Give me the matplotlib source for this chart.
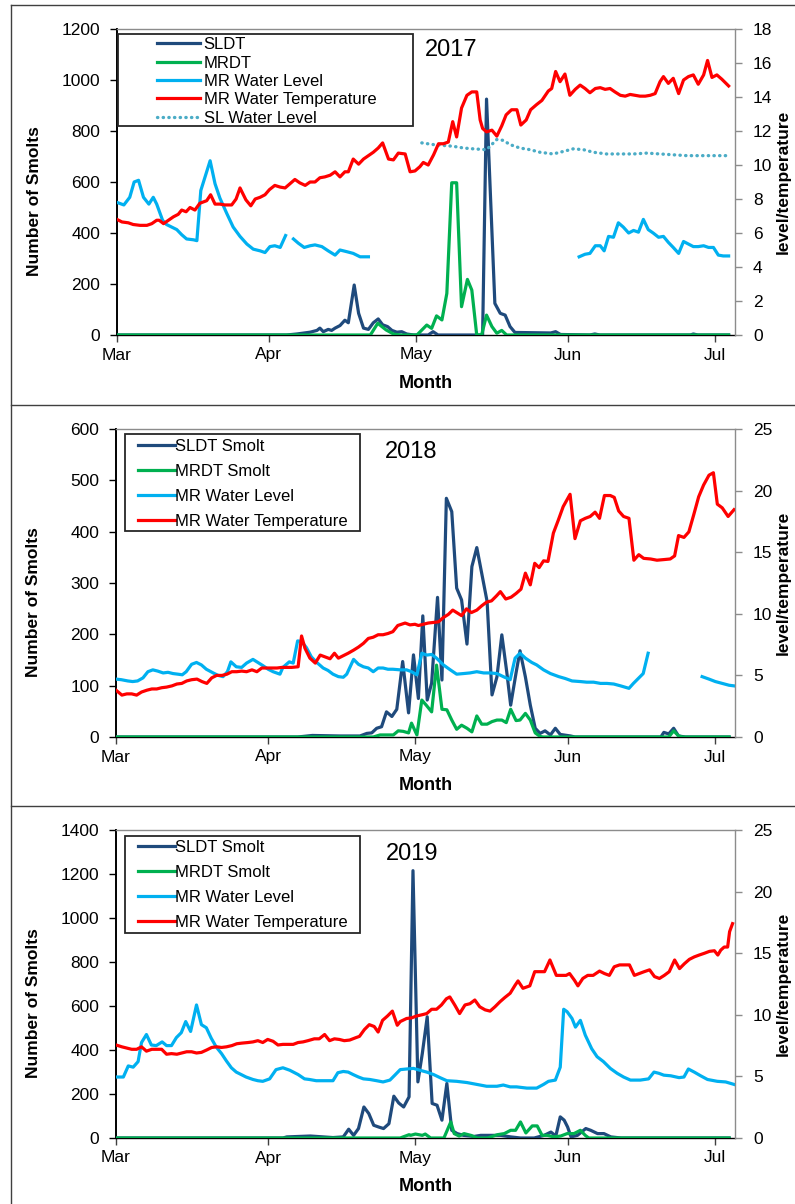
"""Smolt counts vs. river level / temperature, 2017-2019 (three stacked panels)."""

import matplotlib
matplotlib.use("Agg")
import matplotlib.pyplot as plt
import numpy as np
from matplotlib.lines import Line2D
from matplotlib.patches import Rectangle

plt.rcParams.update({
    "font.family": ["Liberation Sans", "DejaVu Sans"],
    "axes.linewidth": 1.0,
})

nan = np.nan

# x axis: days after 1 March
MONTH_DAYS = [0, 31, 61, 92, 122]
MONTH_LABELS = ["Mar", "Apr", "May", "Jun", "Jul"]

# ---------------------------------------------------------------- 2017
SLDT_2017 = [(0, 0), (34.6, 0), (36.7, 4), (39.4, 11), (40.8, 18), (41.4, 27), (42.1, 13),
             (43.1, 22), (43.8, 18), (44.5, 27), (45.5, 37), (46.5, 58), (47.2, 48),
             (48.4, 196), (49.3, 85), (50.3, 27), (51.3, 22), (52.3, 48), (53.3, 63),
             (54.2, 40), (55.2, 33), (56.1, 18), (57.1, 11), (58.1, 13), (59.1, 4),
             (60.5, 0), (63.5, 0), (64.5, 13), (65.5, 0), (74.6, 0), (75.4, 925),
             (77.1, 124), (78.2, 85), (79.2, 78), (80.2, 33), (81.2, 10), (88.5, 8),
             (89.5, 13), (90.5, 2), (96.5, 0), (97.5, 4), (98.5, 0), (117.0, 0),
             (117.6, 4), (118.5, 0), (124.8, 0)]
MRDT_2017 = [(0, 0), (51.7, 0), (53.2, 46), (54.9, 20), (56.5, 3), (58, 0), (61.2, 0),
             (63.2, 39), (64.2, 26), (65.2, 75), (66.3, 59), (67.3, 163), (68.3, 597),
             (69.3, 597), (70.3, 111), (71.5, 218), (72.4, 176), (73.4, 0), (74.4, 0),
             (75.4, 78), (76.5, 33), (77.5, 7), (78.5, 18), (79.5, 0), (124.8, 0)]
MRWL_2017 = [(0, 7.8), (1.4, 7.65), (2.6, 8.1), (3.5, 9.0), (4.4, 9.1), (5.4, 8.1), (6.5, 7.7),
             (7.4, 8.1), (8.1, 7.7), (9.3, 6.75), (10.1, 6.5), (12.2, 6.2), (13.2, 5.9),
             (14.2, 5.65), (15.6, 5.6), (16.3, 5.55), (17.1, 8.5), (19.0, 10.25), (20.0, 8.9),
             (21.0, 8.05), (22.4, 7.15), (23.7, 6.35), (25.1, 5.8), (26.5, 5.35), (27.8, 5.05),
             (29.2, 4.95), (30.2, 4.85), (31.2, 5.2), (32.2, 5.25), (33.3, 5.15), (34.4, 5.85),
             (35.2, nan), (36.0, 5.65), (37.0, 5.4), (38.2, 5.15), (39.4, 5.25), (40.4, 5.3),
             (41.8, 5.2), (43.1, 4.95), (44.5, 4.7), (45.5, 5.0), (46.9, 4.9), (48.2, 4.8),
             (49.6, 4.6), (51.3, 4.6), (52, nan), (94.3, 4.6), (95.5, 4.75), (96.5, 4.8),
             (97.6, 5.25), (98.6, 5.25), (99.4, 4.95), (100.3, 5.8), (101.3, 5.75),
             (102.3, 6.6), (103.3, 6.35), (104.4, 6.0), (105.4, 6.15), (106.4, 6.05),
             (107.4, 6.8), (108.4, 6.2), (109.4, 6.0), (110.5, 5.75), (111.5, 5.8),
             (112.5, 5.45), (113.5, 5.15), (114.6, 4.8), (115.6, 5.5), (116.6, 5.35),
             (117.6, 5.2), (118.6, 5.2), (119.7, 5.25), (120.7, 5.15), (121.7, 5.15),
             (122.7, 4.7), (123.7, 4.65), (124.8, 4.65)]
MRWT_2017 = [(0, 6.8), (1.0, 6.65), (2.3, 6.6), (3.3, 6.5), (4.7, 6.45), (6.1, 6.45), (7.1, 6.55),
             (8.1, 6.75), (8.6, 6.75), (9.5, 6.55), (10.5, 6.75), (11.5, 6.95), (12.5, 7.1),
             (13.2, 7.35), (14.1, 7.25), (14.9, 7.5), (15.9, 7.35), (16.9, 7.75), (18.3, 7.9),
             (19.1, 8.25), (20.0, 7.7), (21.0, 7.7), (22.0, 7.65), (23.4, 7.65), (24.3, 8.0),
             (25.1, 8.65), (26.3, 7.95), (27.3, 7.6), (28.2, 8.0), (29.2, 8.1), (30.2, 8.25),
             (31.1, 8.55), (32.2, 8.8), (33.3, 8.7), (34.3, 8.65), (35.3, 8.9), (36.3, 9.15),
             (37.3, 8.95), (38.4, 8.8), (39.4, 9.0), (40.4, 9.0), (41.4, 9.25), (42.4, 9.3),
             (43.5, 9.4), (44.5, 9.6), (45.5, 9.3), (46.5, 9.6), (47.2, 9.6), (48.2, 10.35),
             (49.3, 10.05), (50.3, 10.35), (51.3, 10.55), (52.3, 10.75), (53.3, 11.0),
             (54.2, 11.3), (55.4, 10.35), (56.4, 10.3), (57.4, 10.7), (58.8, 10.65),
             (59.8, 9.6), (60.8, 9.65), (61.8, 9.9), (62.5, 10.15), (63.5, 10.0), (64.6, 10.6),
             (65.6, 11.25), (66.6, 11.25), (67.6, 11.35), (68.5, 12.55), (69.3, 11.65),
             (70.3, 13.35), (71.4, 14.1), (72.4, 14.3), (73.4, 14.3), (74.1, 12.65),
             (74.6, 12.15), (75.4, 11.95), (76.5, 12.05), (77.5, 11.7), (78.5, 12.3),
             (79.4, 12.95), (80.5, 13.25), (81.6, 13.25), (82.4, 12.35), (83.5, 12.65),
             (84.4, 13.25), (85.6, 13.55), (86.7, 13.8), (88.0, 14.35), (88.7, 14.5),
             (89.5, 15.5), (90.4, 14.9), (91.4, 15.35), (92.4, 14.1), (93.5, 14.45),
             (94.5, 14.7), (95.5, 14.5), (96.5, 14.25), (97.6, 14.5), (98.6, 14.55),
             (99.6, 14.45), (100.6, 14.5), (101.6, 14.3), (102.7, 14.1), (103.7, 14.05),
             (104.7, 14.15), (105.7, 14.1), (106.7, 14.05), (107.8, 14.05), (108.8, 14.1),
             (109.8, 14.2), (110.8, 14.9), (111.5, 15.2), (112.5, 14.8), (113.5, 15.1),
             (114.6, 14.2), (115.6, 15.0), (116.6, 15.2), (117.6, 15.3), (118.6, 14.75),
             (119.7, 15.3), (120.5, 16.15), (121.4, 15.15), (122.4, 15.3), (123.4, 15.05),
             (124.8, 14.65)]
SLWL_2017 = [(62.2, 11.3), (64.6, 11.2), (66.6, 11.15), (68.6, 11.1), (70.7, 11.0),
             (72.7, 10.95), (75.4, 10.9), (77.5, 11.5), (78.8, 11.45), (80.2, 11.2),
             (82.2, 11.0), (84.3, 10.9), (86.3, 10.75), (89.0, 10.65), (91.1, 10.8),
             (93.1, 10.95), (95.2, 10.9), (97.2, 10.75), (99.9, 10.65), (102.7, 10.65),
             (105.4, 10.65), (108.1, 10.7), (110.8, 10.65), (113.5, 10.6), (116.3, 10.55),
             (119.0, 10.55), (121.7, 10.55), (124.8, 10.55)]

# ---------------------------------------------------------------- 2018
SLDT_2018 = [(0, 0), (37, 0), (40, 3), (45.6, 2), (49.7, 2), (51.1, 7), (52.1, 8), (53.1, 17),
             (54.1, 20), (55.1, 49), (56.2, 40), (57.2, 54), (58.4, 147), (59.6, 47),
             (60.6, 160), (61.6, 75), (62.5, 236), (63.4, 72), (64.3, 105), (65.5, 272),
             (66.4, 111), (67.3, 465), (68.4, 439), (69.4, 290), (70.4, 267), (71.5, 181),
             (72.5, 332), (73.5, 369), (74.5, 319), (75.6, 264), (76.6, 82), (77.6, 117),
             (78.6, 199), (79.6, 127), (80.4, 62), (81.5, 125), (82.3, 168), (83.4, 117),
             (84.4, 62), (85.4, 17), (86.4, 7), (87.4, 12), (88.5, 4), (89.5, 17), (90.5, 5),
             (92.6, 2), (93.5, 0), (111.0, 0), (111.6, 9), (112.6, 6), (113.6, 17),
             (114.6, 2), (116, 0), (124.9, 0)]
MRDT_2018 = [(0, 0), (52.4, 0), (53.8, 4), (56.5, 4), (57.5, 12), (58.5, 11), (59.6, 8),
             (60.2, 27), (61.3, 4), (62.3, 72), (63.2, 62), (64.3, 49), (65.3, 140),
             (66.4, 54), (67.4, 53), (68.4, 33), (69.4, 15), (70.4, 23), (71.5, 17),
             (72.5, 10), (73.5, 41), (74.5, 25), (75.6, 25), (76.6, 30), (77.6, 33),
             (78.6, 33), (79.5, 28), (80.4, 54), (81.5, 32), (82.3, 33), (83.4, 46),
             (84.4, 33), (85.4, 8), (86.4, 1), (87, 0), (112.6, 0), (113.6, 12), (114.6, 2),
             (115.5, 0), (124.9, 0)]
MRWL_2018 = [(0, 4.7), (1.1, 4.65), (2.4, 4.55), (3.4, 4.5), (4.4, 4.55), (5.5, 4.8), (6.5, 5.3),
             (7.5, 5.45), (8.5, 5.35), (9.6, 5.2), (10.6, 5.25), (11.6, 5.15), (12.6, 5.1),
             (13.5, 5.05), (14.3, 5.3), (15.4, 5.9), (16.4, 6.05), (17.4, 5.85), (18.4, 5.5),
             (19.8, 5.2), (20.8, 5.0), (21.8, 4.9), (22.7, 5.3), (23.4, 6.1), (24.5, 5.7),
             (25.6, 5.65), (26.6, 6.0), (27.9, 6.3), (28.9, 6.05), (29.9, 5.8), (31.0, 5.5),
             (32.0, 5.3), (33.4, 5.1), (34.0, 5.65), (35.3, 6.1), (36.1, 6.0), (37.0, 7.8),
             (37.8, 7.75), (38.8, 7.25), (39.8, 6.5), (40.9, 6.05), (42.2, 5.6), (43.2, 5.4),
             (44.2, 5.1), (45.3, 4.9), (46.3, 4.85), (47.0, 5.1), (47.7, 5.7), (48.4, 6.3),
             (49.4, 5.9), (50.4, 5.7), (51.4, 5.6), (52.4, 5.3), (53.4, 5.6), (54.4, 5.6),
             (55.4, 5.5), (56.4, 5.5), (57.9, 5.45), (59.2, 5.45), (60.2, 5.3), (61.3, 5.05),
             (62.3, 6.8), (63.3, 6.65), (64.3, 6.7), (65.3, 6.4), (66.7, 5.85), (68.1, 5.45),
             (69.4, 5.1), (70.8, 5.15), (72.1, 5.2), (73.5, 5.3), (74.9, 5.2), (76.2, 5.2),
             (77.6, 5.15), (78.9, 4.9), (80.3, 4.65), (81.3, 6.4), (82.3, 6.8), (83.4, 6.4),
             (84.7, 6.05), (85.7, 5.85), (87.1, 5.45), (88.5, 5.15), (90.2, 4.9), (91.5, 4.75),
             (92.9, 4.55), (94.6, 4.5), (95.9, 4.45), (97.3, 4.45), (98.7, 4.35), (100.0, 4.35),
             (101.4, 4.3), (102.8, 4.15), (104.5, 3.95), (105.4, 4.35), (106.4, 4.75),
             (107.4, 5.15), (108.4, 6.8), (109, nan), (119.4, 4.9), (120.8, 4.7), (122.1, 4.5),
             (123.5, 4.35), (124.9, 4.2), (125.9, 4.15)]
MRWT_2018 = [(0, 3.8), (1.2, 3.4), (2.2, 3.5), (3.2, 3.5), (4.2, 3.4), (5.2, 3.65), (6.3, 3.8),
             (7.3, 3.9), (8.3, 3.9), (9.3, 4.0), (10.3, 4.05), (11.4, 4.15), (12.4, 4.3),
             (13.4, 4.35), (14.4, 4.55), (15.4, 4.65), (16.5, 4.7), (17.5, 4.5), (18.5, 4.35),
             (19.5, 4.8), (20.5, 5.0), (21.6, 5.0), (22.6, 5.1), (23.6, 5.3), (24.6, 5.3),
             (25.6, 5.35), (26.6, 5.3), (27.7, 5.45), (28.7, 5.3), (29.7, 5.6), (30.7, 5.6),
             (31.7, 5.6), (32.8, 5.6), (33.8, 5.65), (34.8, 5.65), (35.8, 5.65), (37.1, 5.7),
             (37.8, 8.2), (38.5, 7.2), (39.5, 6.4), (40.6, 6.0), (41.6, 6.65), (42.6, 6.5),
             (43.6, 6.35), (44.5, 6.8), (45.3, 6.4), (46.3, 6.6), (47.3, 6.8), (48.4, 7.05),
             (49.4, 7.3), (50.4, 7.6), (51.4, 8.0), (52.4, 8.1), (53.4, 8.3), (54.4, 8.3),
             (55.4, 8.4), (56.4, 8.55), (57.4, 9.05), (58.9, 9.25), (59.9, 9.1), (60.9, 9.15),
             (61.6, 9.05), (62.6, 9.15), (63.6, 9.25), (64.7, 9.3), (65.7, 9.35), (66.7, 9.7),
             (67.7, 9.95), (68.6, 10.3), (69.4, 10.1), (70.4, 9.85), (71.4, 10.4), (72.4, 10.1),
             (73.5, 10.3), (74.5, 10.65), (75.5, 10.95), (76.5, 11.05), (77.5, 11.45),
             (78.3, 11.8), (79.4, 11.2), (80.5, 11.35), (81.5, 11.65), (82.5, 12.0),
             (83.4, 13.3), (84.4, 12.35), (85.3, 14.1), (86.2, 13.75), (87.1, 14.3),
             (88.0, 14.25), (89.1, 16.55), (90.1, 17.6), (91.1, 18.7), (92.5, 19.7),
             (93.5, 16.1), (94.6, 17.55), (95.6, 17.75), (96.6, 17.9), (97.6, 18.25),
             (98.5, 17.75), (99.5, 19.6), (100.7, 19.6), (101.5, 19.45), (102.4, 18.35),
             (103.4, 17.9), (104.5, 17.75), (105.5, 14.35), (106.5, 14.8), (107.5, 14.5),
             (108.9, 14.45), (110.2, 14.35), (111.6, 14.4), (112.9, 14.45), (113.8, 14.7),
             (114.6, 16.35), (115.7, 16.2), (116.7, 16.65), (117.7, 18.05), (118.7, 19.5),
             (119.7, 20.45), (120.8, 21.25), (121.7, 21.45), (122.5, 18.9), (123.5, 18.6),
             (124.7, 17.9), (125.9, 18.45)]

# ---------------------------------------------------------------- 2019
SLDT_2019 = [(0, 0), (34, 0), (34.8, 5), (39.6, 9), (44.2, 2), (46.3, 5), (47.4, 40), (48.4, 12),
             (49.4, 43), (50.5, 141), (51.5, 111), (52.5, 58), (53.5, 50), (54.5, 43),
             (55.6, 65), (56.6, 190), (57.6, 159), (58.6, 141), (59.7, 187), (60.5, 1215),
             (61.5, 255), (62.4, 384), (63.4, 551), (64.4, 157), (65.4, 149), (66.4, 81),
             (67.4, 248), (68.4, 35), (69.5, 20), (70.8, 12), (72.9, 7), (74.3, 12),
             (78.4, 12), (80.4, 5), (82.4, 0), (85.2, 0), (87.2, 12), (88.6, 27), (89.6, 9),
             (90.5, 96), (91.3, 81), (92.0, 50), (92.7, 5), (94.0, 12), (95.7, 43), (96.7, 35),
             (98.1, 20), (99.4, 20), (100.8, 5), (102.9, 0), (124.9, 0)]
MRDT_2019 = [(0, 0), (57.9, 0), (59.7, 15), (60.0, 12), (61.0, 18), (62.4, 12), (63.0, 18),
             (64.1, 0), (66.8, 0), (68.2, 73), (68.9, 20), (69.9, 9), (70.9, 20), (72.3, 12),
             (73.6, 0), (75.7, 0), (77.7, 15), (79.1, 20), (80.4, 35), (81.4, 35), (82.4, 73),
             (83.5, 23), (84.8, 55), (85.8, 55), (86.8, 12), (87.9, 12), (89.2, 5), (90.6, 9),
             (91.9, 20), (93.3, 20), (94.6, 35), (95.6, 12), (96.3, 0), (124.9, 0)]
MRWL_2019 = [(0, 4.95), (1.5, 4.95), (2.5, 5.85), (3.5, 5.75), (4.5, 6.2), (5.2, 7.75), (6.2, 8.4),
             (7.2, 7.55), (8.2, 7.5), (9.4, 7.8), (10.3, 7.5), (11.3, 7.5), (12.3, 8.15),
             (13.3, 8.55), (14.2, 9.45), (15.2, 8.65), (16.4, 10.8), (17.4, 9.2), (18.4, 8.95),
             (19.4, 8.1), (20.4, 7.4), (21.5, 6.85), (22.5, 6.25), (23.5, 5.7), (24.5, 5.35),
             (25.5, 5.15), (26.5, 4.95), (27.9, 4.75), (28.9, 4.65), (29.9, 4.6), (31.3, 4.8),
             (32.6, 5.55), (34.0, 5.7), (35.4, 5.5), (37.1, 5.15), (38.4, 4.8), (39.4, 4.75),
             (40.8, 4.65), (42.5, 4.65), (44.2, 4.65), (45.2, 5.3), (46.3, 5.4), (47.3, 5.35),
             (48.3, 5.15), (49.4, 4.95), (50.4, 4.8), (51.7, 4.75), (53.1, 4.65), (54.4, 4.55),
             (55.8, 4.7), (56.8, 5.1), (57.9, 5.55), (59.2, 5.6), (60.6, 5.65), (61.9, 5.5),
             (63.3, 5.35), (64.7, 5.15), (66.0, 4.9), (67.4, 4.65), (69.4, 4.6), (71.5, 4.5),
             (73.5, 4.35), (75.5, 4.2), (77.6, 4.2), (78.9, 4.3), (80.3, 4.15), (81.6, 4.15),
             (83.7, 4.05), (85.7, 4.05), (87.1, 4.35), (88.1, 4.6), (89.5, 4.7), (90.5, 5.75),
             (91.2, 10.45), (91.9, 10.25), (92.9, 9.7), (93.6, 9.0), (94.6, 9.55), (95.6, 8.35),
             (96.9, 7.25), (98.0, 6.6), (99.3, 6.2), (100.7, 5.65), (102.1, 5.25), (103.4, 4.95),
             (104.8, 4.7), (106.8, 4.7), (108.5, 4.8), (109.6, 5.35), (110.6, 5.25),
             (111.6, 5.1), (113.0, 5.05), (114.7, 4.9), (115.7, 4.95), (116.6, 5.6),
             (117.8, 5.35), (119.1, 5.05), (120.5, 4.75), (122.5, 4.6), (124.2, 4.55),
             (125.9, 4.35)]
MRWT_2019 = [(0, 7.55), (1.2, 7.4), (2.2, 7.3), (3.2, 7.2), (4.2, 7.2), (5.2, 7.4), (6.2, 7.05),
             (7.3, 7.2), (8.3, 7.2), (9.3, 7.2), (10.3, 6.8), (11.3, 6.85), (12.4, 6.8),
             (13.4, 6.9), (14.4, 7.0), (15.4, 7.0), (16.4, 6.9), (17.4, 6.95), (18.5, 7.15),
             (19.5, 7.35), (20.5, 7.4), (21.5, 7.35), (22.5, 7.4), (23.6, 7.5), (24.6, 7.65),
             (25.6, 7.7), (26.9, 7.75), (27.9, 7.8), (28.9, 7.9), (29.9, 7.75), (30.9, 8.0),
             (32.0, 7.85), (33.0, 7.55), (34.0, 7.6), (35.0, 7.6), (36.1, 7.6), (37.1, 7.75),
             (38.1, 7.8), (39.1, 7.9), (40.4, 8.05), (41.4, 8.05), (42.5, 8.4), (43.5, 7.9),
             (44.5, 8.05), (45.5, 8.0), (46.5, 7.9), (47.6, 7.95), (48.9, 8.15), (49.6, 8.25),
             (50.6, 8.8), (51.6, 9.2), (52.6, 9.05), (53.4, 8.6), (54.3, 9.55), (55.3, 9.9),
             (56.3, 10.3), (57.3, 9.15), (57.9, 9.45), (59.2, 9.7), (60.2, 9.75), (61.2, 9.9),
             (62.3, 10.0), (63.3, 10.1), (64.3, 10.45), (65.3, 10.45), (66.3, 10.8),
             (67.3, 11.3), (68.0, 11.45), (69.0, 10.8), (70.0, 10.1), (71.1, 10.8),
             (72.1, 10.9), (73.1, 11.2), (74.1, 10.65), (75.2, 10.4), (76.2, 10.3),
             (77.2, 10.65), (78.2, 11.05), (79.2, 11.4), (80.3, 11.75), (81.3, 12.4),
             (81.9, 12.75), (82.9, 12.15), (84.3, 12.35), (85.3, 13.5), (86.3, 13.5),
             (87.3, 13.5), (88.4, 14.45), (89.7, 13.2), (90.7, 13.2), (91.7, 13.2),
             (92.4, 13.35), (93.4, 12.8), (94.1, 12.35), (95.1, 12.95), (96.1, 13.2),
             (97.2, 13.2), (98.5, 13.55), (99.5, 13.35), (100.5, 13.2), (101.5, 13.9),
             (102.6, 14.05), (103.6, 14.05), (104.6, 14.05), (105.6, 13.2), (106.6, 13.35),
             (107.6, 13.5), (108.7, 13.65), (109.7, 13.1), (110.7, 12.95), (111.7, 13.2),
             (112.7, 13.5), (113.8, 14.45), (114.8, 13.75), (115.8, 14.15), (116.8, 14.5),
             (117.8, 14.7), (118.8, 14.85), (119.9, 15.0), (120.9, 15.15), (121.9, 15.2),
             (122.6, 14.85), (123.2, 15.25), (123.9, 15.5), (124.6, 15.5), (125.0, 16.75),
             (125.6, 17.4)]

C_SLDT = "#1F4A7C"
C_MRDT = "#00B050"
C_MRWL = "#00B0F0"
C_MRWT = "#FF0000"
C_SLWL = "#4BACC6"
LW = 2.3
FRAME = "#404040"
GREY = "#8C8C8C"

W, H = 795, 1204


def _xy(pairs):
    arr = np.array(pairs, dtype=float)
    return arr[:, 0], arr[:, 1]


def _px_rect(left, top, right, bottom):
    """Pixel box (from top-left) -> figure-fraction rect."""
    return [left / W, 1 - bottom / H, (right - left) / W, (bottom - top) / H]


def draw_panel(fig, box, year, sldt, mrdt, mrwl, mrwt, slwl, left_max, left_step,
               right_max, right_step, labels, legend_at, legend_box, leg_style):
    ax = fig.add_axes(_px_rect(*box))
    ax2 = ax.twinx()

    h_sldt, = ax.plot(*_xy(sldt), color=C_SLDT, lw=LW, zorder=3)
    h_mrdt, = ax.plot(*_xy(mrdt), color=C_MRDT, lw=LW, zorder=4)
    h_mrwl, = ax2.plot(*_xy(mrwl), color=C_MRWL, lw=LW, zorder=2)
    h_mrwt, = ax2.plot(*_xy(mrwt), color=C_MRWT, lw=LW, zorder=3)
    handles = [h_sldt, h_mrdt, h_mrwl, h_mrwt]
    if slwl is not None:
        h_slwl, = ax2.plot(*_xy(slwl), color=C_SLWL, lw=2.4, ls=(0, (0.1, 1.6)),
                           dash_capstyle="round", zorder=2)
        handles.append(h_slwl)

    ax.set_xlim(0, 126.1)
    ax.set_xticks(MONTH_DAYS, MONTH_LABELS)
    ax.set_ylim(0, left_max)
    ax.set_yticks(np.arange(0, left_max + 1, left_step))
    ax2.set_ylim(0, right_max)
    ax2.set_yticks(np.arange(0, right_max + 0.1, right_step))

    for side in ("top", "right"):
        ax.spines[side].set_visible(False)
    for side in ("left", "bottom"):
        ax2.spines[side].set_visible(False)
    ax2.spines["top"].set_color(GREY)
    ax2.spines["right"].set_color(GREY)
    ax.spines["left"].set_linewidth(1.4)
    ax.spines["left"].set_color("black")
    ax.spines["bottom"].set_color("black")

    ax.tick_params(axis="y", direction="out", length=5, width=1, pad=7, labelsize=12.5,
                   color="black")
    ax.tick_params(axis="x", direction="out", length=5, width=1, pad=4, labelsize=12.5,
                   color=FRAME)
    ax2.tick_params(axis="y", direction="out", length=5, width=1, pad=8, labelsize=12.5,
                    color=GREY)

    top, bottom = box[1], box[3]
    height = bottom - top
    ax.set_ylabel("Number of Smolts", fontsize=12.5, fontweight="bold")
    ax.yaxis.set_label_coords(-0.121, 0.5 - 19 / height)
    ax.set_xlabel("Month", fontsize=13, fontweight="bold")
    ax.xaxis.set_label_coords(0.5, -40 / height)
    ax2.set_ylabel("level/temperature", fontsize=12.5, fontweight="bold")
    ax2.yaxis.set_label_coords(1.0665, 0.5)

    ax2.text(*year[1], year[0], transform=ax2.transAxes, fontsize=17,
             ha="left", va="center")

    bx0, by0, bx1, by1 = legend_box
    ax2.add_patch(Rectangle((bx0, by1), bx1 - bx0, by0 - by1, transform=ax2.transAxes,
                            facecolor="white", edgecolor="#262626", lw=1.3,
                            clip_on=False, zorder=6))
    hlen, hpad, spacing = leg_style
    leg = ax2.legend(handles, labels, loc="upper left", bbox_to_anchor=legend_at,
                     frameon=False, borderpad=0, borderaxespad=0, fontsize=12,
                     handlelength=hlen, handletextpad=hpad, labelspacing=spacing)
    leg.set_zorder(7)
    return ax, ax2


fig = plt.figure(figsize=(W / 100, H / 100), dpi=100)
fig.patch.set_facecolor("white")

# panel frames drawn by the original page
for y in (5, 405, 806):
    fig.add_artist(Line2D([11 / W, 1], [1 - y / H] * 2, transform=fig.transFigure,
                          color=FRAME, lw=1.0))
fig.add_artist(Line2D([11 / W] * 2, [1 - 5 / H, 0], transform=fig.transFigure,
                      color=FRAME, lw=1.0))

draw_panel(fig, (117, 29, 735, 335), ("2017", (0.498, 0.931)),
           SLDT_2017, MRDT_2017, MRWL_2017, MRWT_2017, SLWL_2017,
           1200, 200, 18, 2,
           ["SLDT", "MRDT", "MR Water Level", "MR Water Temperature", "SL Water Level"],
           (0.0647, 0.973), (0.0016, 0.9837, 0.479, 0.683), (2.6, 0.2, 0.2))

draw_panel(fig, (116, 429, 735, 737), ("2018", (0.435, 0.926)),
           SLDT_2018, MRDT_2018, MRWL_2018, MRWT_2018, None,
           600, 100, 25, 5,
           ["SLDT Smolt", "MRDT Smolt", "MR Water Level", "MR Water Temperature"],
           (0.0355, 0.9685), (0.0145, 0.9838, 0.394, 0.669), (2.2, 0.05, 0.6))

draw_panel(fig, (116, 830, 735, 1138), ("2019", (0.436, 0.922)),
           SLDT_2019, MRDT_2019, MRWL_2019, MRWT_2019, None,
           1400, 200, 25, 5,
           ["SLDT Smolt", "MRDT Smolt", "MR Water Level", "MR Water Temperature"],
           (0.0355, 0.9665), (0.0145, 0.9805, 0.394, 0.6653), (2.2, 0.05, 0.6))

fig.savefig("out.png", dpi=100)
